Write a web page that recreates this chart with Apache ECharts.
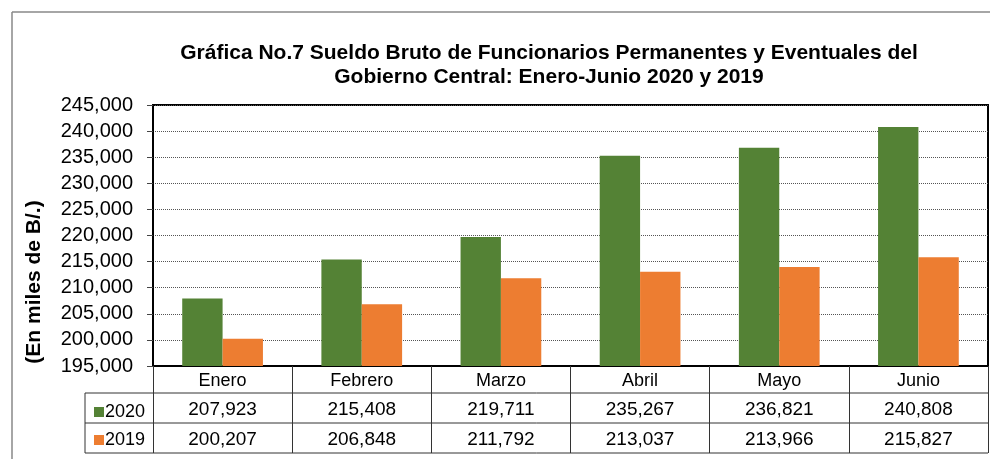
<!DOCTYPE html>
<html><head><meta charset="utf-8">
<script src="https://cdn.jsdelivr.net/npm/echarts@6/dist/echarts.min.js"></script>
<style>html,body{margin:0;padding:0;background:#fff}#c{width:990px;height:459px}</style>
</head><body><div id="c"></div>
<script>
const categories = ['Enero','Febrero','Marzo','Abril','Mayo','Junio'];
const seriesNames = ['2020','2019'];
const values2020 = [207923, 215408, 219711, 235267, 236821, 240808];
const values2019 = [200207, 206848, 211792, 213037, 213966, 215827];
const yMin = 195000, yMax = 245000, yStep = 5000;
const colors = ['#548235', '#ED7D31'];
const FONT = '"Liberation Sans", Arial, sans-serif';
const fmt = v => v.toLocaleString('en-US');

const chart = echarts.init(document.getElementById('c'), null, {renderer:'canvas'});
const gridL = 153, gridR = 988, gridT = 105, gridB = 366;
const rowH = [27, 30, 30];
const tableLines = [];
let y = gridB;
const ys = [];
rowH.forEach(h => { y += h; ys.push(y); });
ys.forEach(yy => tableLines.push({type:'line', shape:{x1:85, y1:yy, x2:gridR, y2:yy}, style:{stroke:'#333', lineWidth:1}}));
tableLines.push({type:'line', shape:{x1:85, y1:ys[0], x2:85, y2:ys[2]}, style:{stroke:'#333', lineWidth:1}});

chart.setOption({
  animation:false,
  textStyle:{fontFamily:FONT},
  title:{
    text:'Gráfica No.7 Sueldo Bruto de Funcionarios Permanentes y Eventuales del\nGobierno Central: Enero-Junio 2020 y 2019',
    left:544, top:36, textAlign:'center',
    textStyle:{fontFamily:FONT, fontSize:21, fontWeight:'bold', color:'#000', lineHeight:24}
  },
  legend:{
    data:seriesNames, orient:'vertical', left:89, top:398, itemWidth:10, itemHeight:10, itemGap:10,
    icon:'rect', textStyle:{fontFamily:FONT, fontSize:18, color:'#000', padding:[0,0,0,-4]}
  },
  grid:{left:gridL, right:990-gridR, top:gridT, bottom:459-gridB, show:true, borderColor:'#000', borderWidth:2},
  xAxis:[
    {type:'category', data:categories, position:'bottom', gridIndex:0,
     axisLine:{show:true, lineStyle:{color:'#000', width:2}},
     axisTick:{show:true, length:87, lineStyle:{color:'#333', width:1}},
     axisLabel:{interval:0, margin:6, fontFamily:FONT, fontSize:18, color:'#000'}},
    {type:'category', data:values2020.map(fmt), position:'bottom', offset:rowH[0],
     axisLine:{show:false}, axisTick:{show:false},
     axisLabel:{interval:0, margin:7, fontFamily:FONT, fontSize:19, color:'#000'}},
    {type:'category', data:values2019.map(fmt), position:'bottom', offset:rowH[0]+rowH[1],
     axisLine:{show:false}, axisTick:{show:false},
     axisLabel:{interval:0, margin:7, fontFamily:FONT, fontSize:19, color:'#000'}}
  ],
  yAxis:{
    type:'value', min:yMin, max:yMax, interval:yStep,
    axisLine:{show:true, lineStyle:{color:'#000', width:2}},
    axisTick:{show:true, length:6, lineStyle:{color:'#444'}},
    axisLabel:{margin:20, fontFamily:FONT, fontSize:20, color:'#000', formatter:v => fmt(v)},
    splitLine:{show:true, lineStyle:{color:'#555', type:'dotted', width:1}}
  },
  series:[
    {name:seriesNames[0], type:'bar', data:values2020, itemStyle:{color:colors[0]}, barGap:'0%', barCategoryGap:'42%'},
    {name:seriesNames[1], type:'bar', data:values2019, itemStyle:{color:colors[1]}, barGap:'0%', barCategoryGap:'42%'}
  ],
  graphic:[
    {type:'line', shape:{x1:12, y1:12, x2:990, y2:12}, style:{stroke:'#888', lineWidth:1.5}},
    {type:'line', shape:{x1:12, y1:12, x2:12, y2:459}, style:{stroke:'#888', lineWidth:1.5}},
    {type:'text', x:34, y:282, rotation:Math.PI/2,
     style:{text:'(En miles de B/.)', font:'bold 21px ' + FONT, fill:'#000', textAlign:'center', textVerticalAlign:'middle'}},
    ...tableLines
  ]
});
</script></body></html>
